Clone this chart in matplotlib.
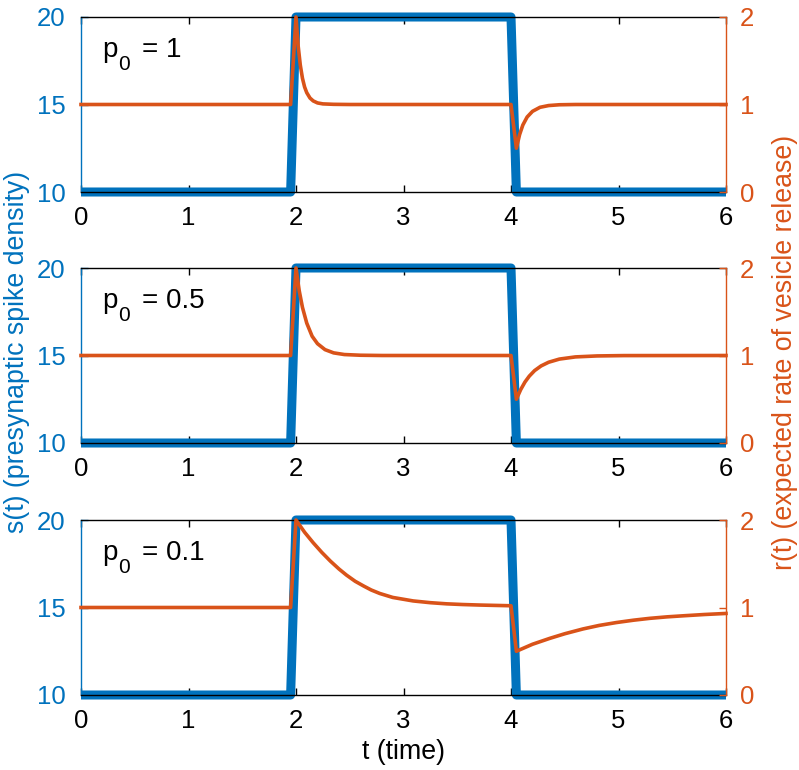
import matplotlib
matplotlib.use("Agg")
import matplotlib.pyplot as plt

plt.rcParams['font.family'] = ['Liberation Sans', 'DejaVu Sans']

BLUE = '#0072BD'
ORANGE = '#D95319'

# presynaptic spike density s(t)
t_s = [0, 1.95, 2.0, 4.0, 4.05, 6.0]
s_vals = [10, 10, 20, 20, 10, 10]

# expected release rate r(t), p0 = 1
t_r1 = [0, 1.95, 2.0, 2.02, 2.04, 2.06, 2.08, 2.10, 2.13, 2.16, 2.20, 2.25, 2.35, 2.5,
        4.0, 4.05, 4.08, 4.11, 4.15, 4.20, 4.27, 4.35, 4.45, 4.6, 6.0]
r1 = [1, 1, 2, 1.67, 1.45, 1.30, 1.20, 1.135, 1.074, 1.041, 1.018, 1.007, 1.002, 1.0,
      1.0, 0.50, 0.656, 0.765, 0.857, 0.922, 0.968, 0.988, 0.997, 1.0, 1.0]

# p0 = 0.5
t_r2 = [0, 1.95, 2.0, 2.03, 2.06, 2.10, 2.15, 2.20, 2.27, 2.35, 2.45, 2.6, 2.8,
        4.0, 4.05, 4.09, 4.13, 4.17, 4.22, 4.28, 4.35, 4.45, 4.6, 4.8, 5.05, 6.0]
r2 = [1, 1, 2, 1.74, 1.55, 1.37, 1.22, 1.135, 1.067, 1.03, 1.011, 1.003, 1.0,
      1.0, 0.50, 0.61, 0.697, 0.764, 0.828, 0.881, 0.923, 0.959, 0.984, 0.995, 0.999, 1.0]

# p0 = 0.1
t_r3 = [0, 1.95, 2.0, 2.08, 2.16, 2.24, 2.32, 2.40, 2.47, 2.55, 2.63, 2.70, 2.78, 2.90,
        3.09, 3.25, 3.40, 3.55, 3.71, 3.85, 4.0, 4.05, 4.2, 4.36, 4.5, 4.67, 4.82, 4.98,
        5.14, 5.29, 5.45, 5.6, 5.8, 6.0]
r3 = [1, 1, 2, 1.86, 1.74, 1.63, 1.53, 1.44, 1.37, 1.30, 1.245, 1.20, 1.16, 1.115,
      1.075, 1.055, 1.042, 1.034, 1.028, 1.024, 1.02, 0.50, 0.58, 0.647, 0.70, 0.755, 0.795, 0.828,
      0.855, 0.876, 0.893, 0.905, 0.92, 0.932]

p0_values = ['1', '0.5', '0.1']
r_series = [(t_r1, r1), (t_r2, r2), (t_r3, r3)]

x_ticks = [0, 1, 2, 3, 4, 5, 6]
s_ticks = [10, 15, 20]
r_ticks = [0, 1, 2]

W, H = 799, 770
fig = plt.figure(figsize=(W / 100, H / 100), dpi=100)

left = 81 / W
width = 645 / W
height = 175 / H
tops = [17, 268, 520]

TICK_FS = 18.5
for i, top in enumerate(tops):
    bottom = 1 - (top + 175) / H
    ax = fig.add_axes([left, bottom, width, height])
    ax2 = ax.twinx()
    ax.set_zorder(1)
    ax2.set_zorder(2)
    ax2.patch.set_visible(False)

    ax.plot(t_s, s_vals, color=BLUE, lw=6.5, clip_on=False,
            solid_joinstyle='round', solid_capstyle='butt')
    tr, rv = r_series[i]
    ax2.plot(tr, rv, color=ORANGE, lw=2.6, clip_on=False,
             solid_joinstyle='round')

    ax.set_xlim(0, 6)
    ax.set_ylim(10, 20)
    ax2.set_ylim(0, 2)
    ax.set_xticks(x_ticks)
    ax.set_yticks(s_ticks)
    ax2.set_yticks(r_ticks)

    for sp in ['top', 'bottom']:
        ax.spines[sp].set_color('black')
        ax.spines[sp].set_linewidth(1.0)
        ax2.spines[sp].set_visible(False)
    ax.spines['left'].set_color(BLUE)
    ax.spines['left'].set_linewidth(1.0)
    ax.spines['right'].set_visible(False)
    ax2.spines['left'].set_visible(False)
    ax2.spines['right'].set_color(ORANGE)
    ax2.spines['right'].set_linewidth(1.0)

    ax.tick_params(axis='x', direction='in', top=True, bottom=True, length=5,
                   width=1.0, colors='black', labelsize=TICK_FS, pad=10)
    ax.tick_params(axis='y', direction='in', left=True, right=False, length=5,
                   width=1.0, colors=BLUE, labelsize=TICK_FS, pad=11)
    ax2.tick_params(axis='y', direction='in', right=True, length=5, width=1.0,
                    colors=ORANGE, labelsize=TICK_FS, pad=10)

    # "p_0 = value" annotation with a lowered subscript
    ax.text(0.0326, 0.771, 'p', transform=ax.transAxes, fontsize=20,
            color='black', ha='left', va='baseline', zorder=5)
    ax.text(0.0574, 0.697, '0', transform=ax.transAxes, fontsize=15,
            color='black', ha='left', va='baseline', zorder=5)
    ax.text(0.0946, 0.771, '= ' + p0_values[i], transform=ax.transAxes, fontsize=20,
            color='black', ha='left', va='baseline', zorder=5)

LABEL_FS = 19.3
fig.text(17 / W, 1 - 352 / H, 's(t) (presynaptic spike density)', rotation=90,
         color=BLUE, fontsize=LABEL_FS, ha='center', va='center')
fig.text(785 / W, 1 - 352 / H, 'r(t) (expected rate of vesicle release)', rotation=90,
         color=ORANGE, fontsize=LABEL_FS, ha='center', va='center')
fig.text((81 + 322.5) / W, 1 - 752 / H, 't (time)', color='black',
         fontsize=LABEL_FS, ha='center', va='center')

fig.savefig('out.png', dpi=100, facecolor='white')
